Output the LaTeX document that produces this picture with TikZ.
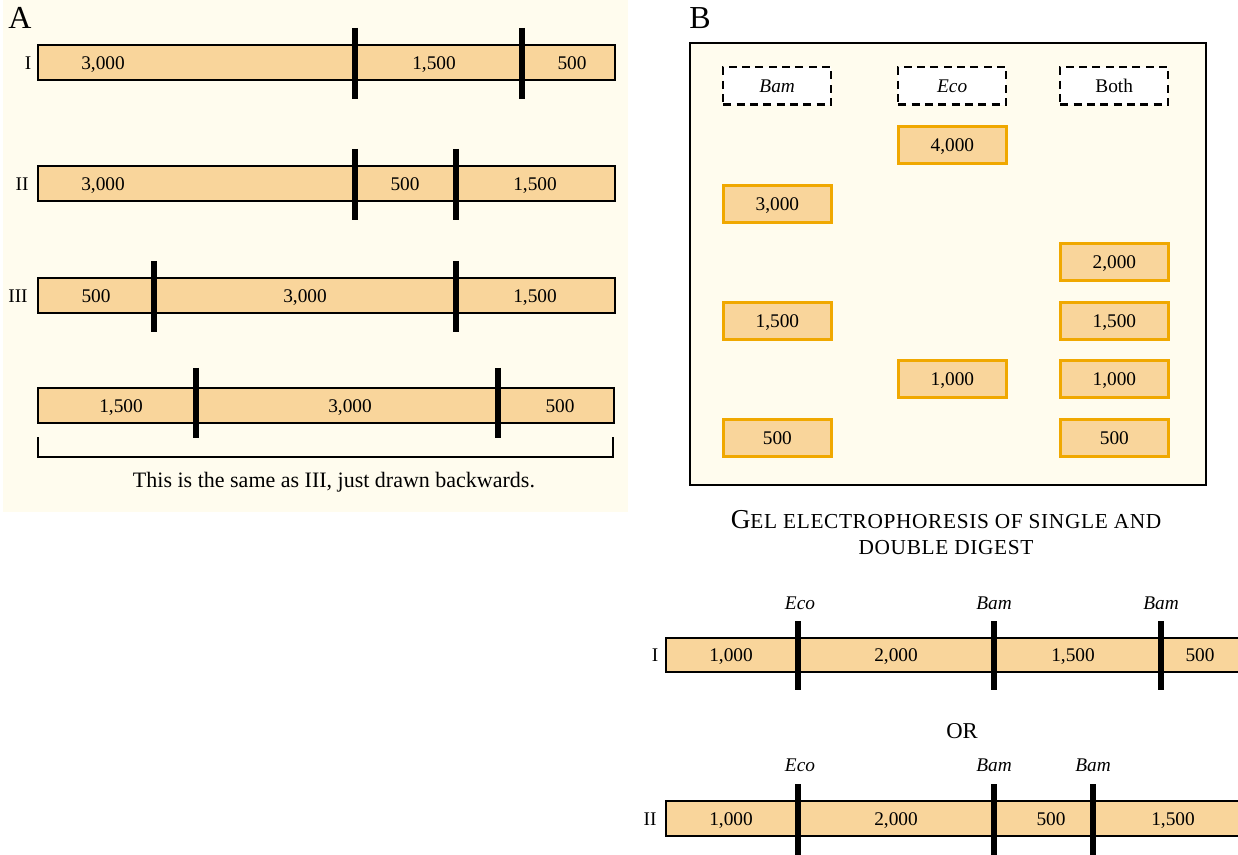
\documentclass[tikz,border=0pt]{standalone}
\usepackage{fontspec}
\setmainfont{Liberation Serif}
\definecolor{bgcream}{HTML}{FFFCEE}
\definecolor{barfill}{HTML}{F9D59B}
\definecolor{bandline}{HTML}{F0A800}
\tikzset{
  bar/.style={draw=black,line width=1.5pt,fill=barfill},
  cut/.style={line width=3.8pt},
  lbl/.style={font=\fontsize{14.5}{16}\selectfont,inner sep=0pt,text height=9.8pt,text depth=0.2pt},
  enz/.style={font=\fontsize{14.5}{16}\selectfont\itshape,inner sep=0pt,text height=9.8pt,text depth=0.2pt},
  band/.style={draw=bandline,line width=2pt,fill=barfill,minimum width=81pt,minimum height=28pt,inner sep=0pt,anchor=north west,font=\fontsize{14.5}{16}\selectfont,text height=9.8pt,text depth=0.2pt},
  lane/.style={draw=black,dashed,dash pattern=on 6pt off 4pt,line width=1.8pt,fill=white,minimum width=81pt,minimum height=28pt,inner sep=0pt,anchor=north west,font=\fontsize{14.5}{16}\selectfont,text height=9.8pt,text depth=0.2pt},
  panel/.style={font=\fontsize{24}{26}\selectfont,inner sep=0pt},
}
\begin{document}
\begin{tikzpicture}[x=0.75pt,y=-0.75pt]
\clip (0,0) rectangle (1238,855);
\fill[white] (0,0) rectangle (1238,855);
% Panel A
\fill[bgcream] (3,0) rectangle (628,512);
\node[panel] (pA) at (20,18) {A};
% row I
\draw[bar] (38,45) rectangle (615,80);
\draw[cut] (355,28) -- (355,99);
\draw[cut] (522,28) -- (522,99);
\node[lbl] (aIn) at (28,63) {I};
\node[lbl] (aI1) at (103,63) {3,000};
\node[lbl] (aI2) at (434,63) {1,500};
\node[lbl] (aI3) at (572,63) {500};
% row II
\draw[bar] (38,166) rectangle (615,201);
\draw[cut] (355,149) -- (355,220);
\draw[cut] (456,149) -- (456,220);
\node[lbl] (aIIn) at (22,184) {II};
\node[lbl] (aII1) at (103,184) {3,000};
\node[lbl] (aII2) at (405,184) {500};
\node[lbl] (aII3) at (535,184) {1,500};
% row III
\draw[bar] (38,278) rectangle (615,313);
\draw[cut] (154,261) -- (154,332);
\draw[cut] (456,261) -- (456,332);
\node[lbl] (aIIIn) at (18,296) {III};
\node[lbl] (aIII1) at (96,296) {500};
\node[lbl] (aIII2) at (305,296) {3,000};
\node[lbl] (aIII3) at (535,296) {1,500};
% row IV (reverse)
\draw[bar] (38,388) rectangle (614,423);
\draw[cut] (196,368) -- (196,438);
\draw[cut] (498,368) -- (498,438);
\node[lbl] (aIV1) at (121,406) {1,500};
\node[lbl] (aIV2) at (350,406) {3,000};
\node[lbl] (aIV3) at (560,406) {500};
\draw[line width=1.5pt] (38,437) -- (38,457) -- (613,457) -- (613,437);
\node[inner sep=0pt,font=\fontsize{16.5}{18}\selectfont] (note) at (334,482) {This is the same as III, just drawn backwards.};
% Panel B
\node[panel] (pB) at (700,18) {B};
\draw[line width=1.5pt,fill=bgcream] (690,43) rectangle (1206,485);
\node[lane] (lBam) at (722,66) {\itshape Bam};
\node[lane] (lEco) at (897,66) {\itshape Eco};
\node[lane] (lBoth) at (1059,66) {Both};
\node[band] (e4000) at (897,125) {4,000};
\node[band] (b3000) at (722,184) {3,000};
\node[band] (d2000) at (1059,242) {2,000};
\node[band] (b1500) at (722,301) {1,500};
\node[band] (d1500) at (1059,301) {1,500};
\node[band] (e1000) at (897,359) {1,000};
\node[band] (d1000) at (1059,359) {1,000};
\node[band] (b500) at (722,418) {500};
\node[band] (d500) at (1059,418) {500};
\node[inner sep=0pt,align=center,font=\fontsize{16}{19.5}\selectfont\addfontfeature{LetterSpace=3}] (title) at (946,533)
  {{\fontsize{20.5}{19.5}\selectfont G}EL ELECTROPHORESIS OF SINGLE AND\\DOUBLE DIGEST};
% map I
\draw[bar] (666,638) rectangle (1250,672);
\draw[cut] (798,621) -- (798,690);
\draw[cut] (994,621) -- (994,690);
\draw[cut] (1161,621) -- (1161,690);
\node[lbl] (mIn) at (655,655) {I};
\node[enz] (mIe1) at (800,603) {Eco};
\node[enz] (mIb1) at (994,603) {Bam};
\node[enz] (mIb2) at (1161,603) {Bam};
\node[lbl] (mI1) at (731,655) {1,000};
\node[lbl] (mI2) at (896,655) {2,000};
\node[lbl] (mI3) at (1073,655) {1,500};
\node[lbl] (mI4) at (1200,655) {500};
\node[inner sep=0pt,font=\fontsize{17}{18}\selectfont] (or) at (962,731) {OR};
% map II
\draw[bar] (666,801) rectangle (1250,836);
\draw[cut] (798,784) -- (798,860);
\draw[cut] (994,784) -- (994,860);
\draw[cut] (1093,784) -- (1093,860);
\node[lbl] (mIIn) at (650,819) {II};
\node[enz] (mIIe1) at (800,765) {Eco};
\node[enz] (mIIb1) at (994,765) {Bam};
\node[enz] (mIIb2) at (1093,765) {Bam};
\node[lbl] (mII1) at (731,819) {1,000};
\node[lbl] (mII2) at (896,819) {2,000};
\node[lbl] (mII3) at (1051,819) {500};
\node[lbl] (mII4) at (1173,819) {1,500};
\end{tikzpicture}
\end{document}
